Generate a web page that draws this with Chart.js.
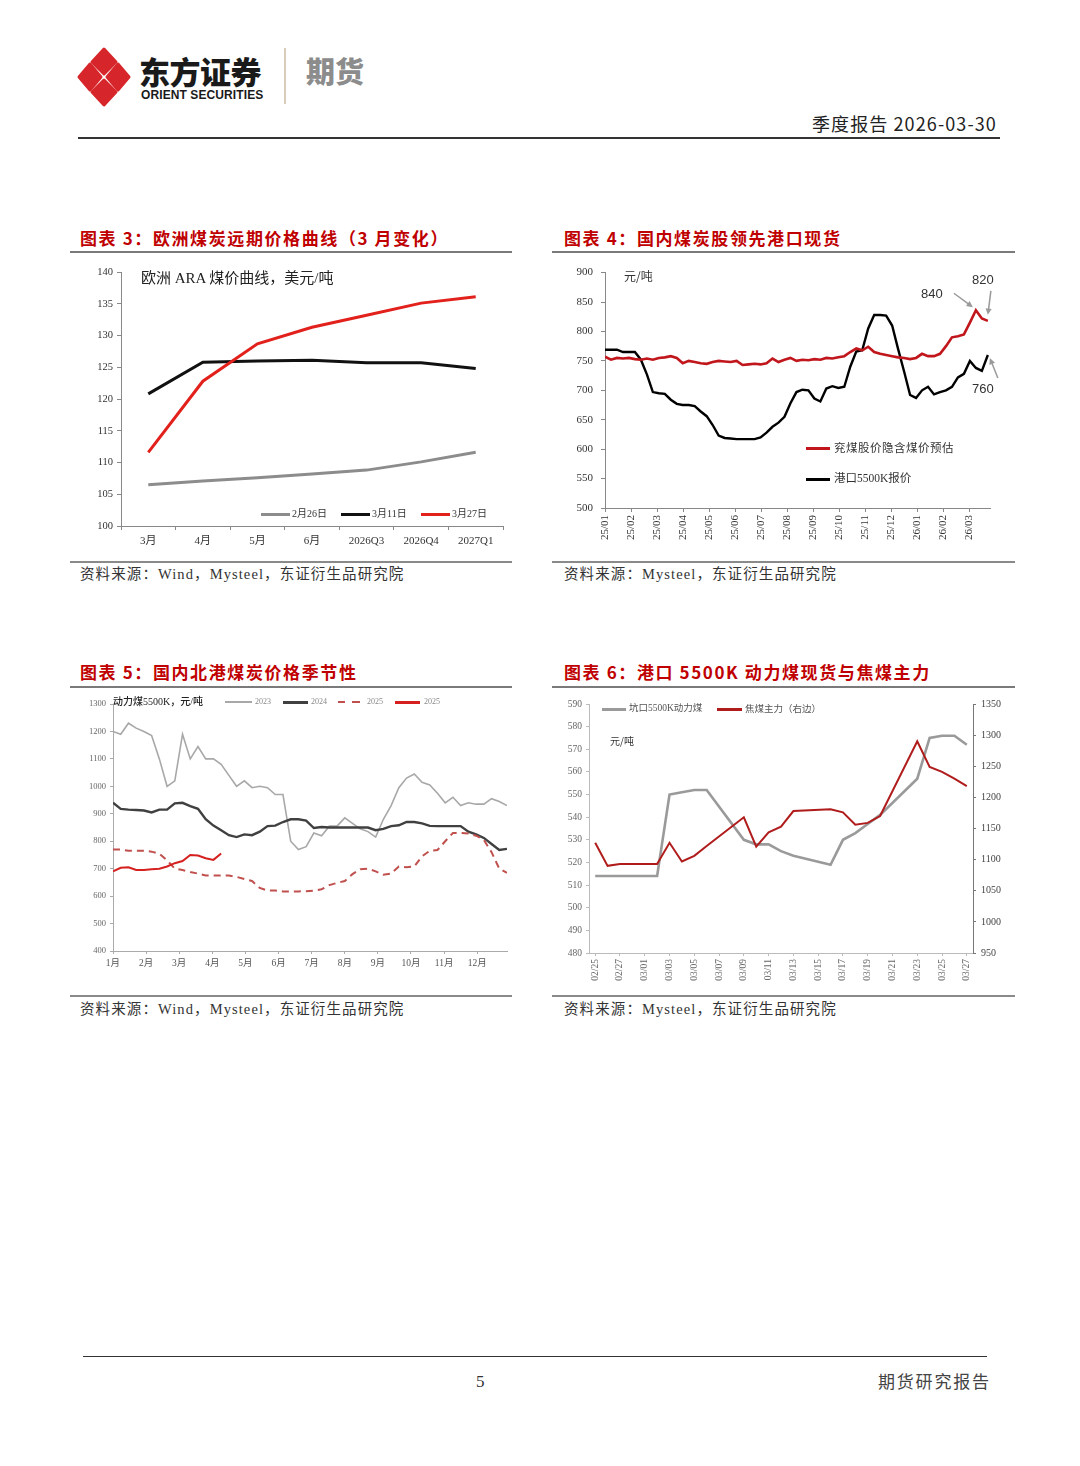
<!DOCTYPE html>
<html><head><meta charset="utf-8">
<script src="https://cdn.jsdelivr.net/npm/chart.js@4.4.1/dist/chart.umd.min.js"></script>
<style>
body{margin:0;background:#fff;}
#page{position:relative;width:1080px;height:1466px;overflow:hidden;font-family:"Noto Sans CJK SC",sans-serif;background:#fff;}
.abs{position:absolute;white-space:nowrap;line-height:1;}
.title{font-size:17px;font-weight:700;color:#c00000;letter-spacing:1.6px;}
.src{font-family:"Liberation Serif","Noto Sans CJK SC",serif;font-size:14.5px;color:#333;letter-spacing:1.1px;}
.ln{position:absolute;}
.serif{font-family:"Liberation Serif","Noto Sans CJK SC",serif;}
canvas{position:absolute;}
</style></head><body><div id="page">

<!-- header -->
<svg class="ln" style="left:76px;top:46px" width="56" height="62" viewBox="0 0 56 62">
  <g fill="#d7262b" stroke="#d7262b" stroke-width="3" stroke-linejoin="round">
    <polygon points="28,3 40,16 28,28 16,16"/>
    <polygon points="14,18 25,31 14,44 3,31"/>
    <polygon points="42,18 53,31 42,44 31,31"/>
    <polygon points="28,34 40,46 28,59 16,46"/>
  </g>
</svg>
<div class="abs" style="left:139px;top:55px;font-size:31px;font-weight:900;color:#1a1a1a;letter-spacing:-0.5px">东方证券</div>
<div class="abs" style="left:141px;top:89px;font-size:12px;font-weight:700;color:#1a1a1a;font-family:'Liberation Sans',Arial,sans-serif;letter-spacing:0.1px">ORIENT SECURITIES</div>
<div class="ln" style="left:284px;top:48px;width:2px;height:56px;background:#d8cdb8"></div>
<div class="abs" style="left:306px;top:56px;font-size:29px;font-weight:900;color:#8c8c8c">期货</div>
<div class="abs" style="left:812px;top:114px;font-size:18px;color:#222;letter-spacing:1.1px">季度报告 2026-03-30</div>
<div class="ln" style="left:78px;top:137px;width:922px;height:2px;background:#333"></div>

<!-- titles -->
<div class="abs title" style="left:80px;top:229px">图表 3：欧洲煤炭远期价格曲线（3 月变化）</div>
<div class="abs title" style="left:564px;top:229px">图表 4：国内煤炭股领先港口现货</div>
<div class="abs title" style="left:80px;top:663px">图表 5：国内北港煤炭价格季节性</div>
<div class="abs title" style="left:564px;top:663px">图表 6：港口 5500K 动力煤现货与焦煤主力</div>
<div class="ln" style="left:70px;top:251px;width:442px;height:2px;background:#7a7a7a"></div>
<div class="ln" style="left:552px;top:251px;width:463px;height:2px;background:#7a7a7a"></div>
<div class="ln" style="left:70px;top:686px;width:442px;height:2px;background:#7a7a7a"></div>
<div class="ln" style="left:552px;top:686px;width:463px;height:2px;background:#7a7a7a"></div>

<!-- sources -->
<div class="ln" style="left:70px;top:561px;width:442px;height:2px;background:#8a8a8a"></div>
<div class="ln" style="left:552px;top:561px;width:463px;height:2px;background:#8a8a8a"></div>
<div class="ln" style="left:70px;top:995px;width:442px;height:2px;background:#8a8a8a"></div>
<div class="ln" style="left:552px;top:995px;width:463px;height:2px;background:#8a8a8a"></div>
<div class="abs src" style="left:80px;top:567px">资料来源：Wind，Mysteel，东证衍生品研究院</div>
<div class="abs src" style="left:564px;top:567px">资料来源：Mysteel，东证衍生品研究院</div>
<div class="abs src" style="left:80px;top:1002px">资料来源：Wind，Mysteel，东证衍生品研究院</div>
<div class="abs src" style="left:564px;top:1002px">资料来源：Mysteel，东证衍生品研究院</div>

<!-- footer -->
<div class="ln" style="left:83px;top:1356px;width:904px;height:1px;background:#333"></div>
<div class="abs serif" style="left:476px;top:1373px;font-size:17px;color:#333">5</div>
<div class="abs" style="left:878px;top:1372px;font-size:17px;color:#444;letter-spacing:1.8px">期货研究报告</div>

<!-- chart canvases -->
<canvas id="c3" width="442" height="300" style="left:70px;top:258px"></canvas>
<canvas id="c4" width="463" height="300" style="left:552px;top:258px"></canvas>
<canvas id="c5" width="442" height="298" style="left:70px;top:692px"></canvas>
<canvas id="c6" width="463" height="298" style="left:552px;top:692px"></canvas>

<!-- chart 3 overlays -->
<div class="abs" style="left:141px;top:271px;font-size:15px;color:#222;font-family:'Liberation Serif','Noto Sans CJK SC',serif">欧洲 ARA 煤价曲线，美元/吨</div>
<div class="ln" style="left:261px;top:513px;width:29px;height:3px;background:#8c8c8c"></div>
<div class="abs serif" style="left:292px;top:509px;font-size:10px;color:#333">2月26日</div>
<div class="ln" style="left:341px;top:513px;width:29px;height:3px;background:#111"></div>
<div class="abs serif" style="left:372px;top:509px;font-size:10px;color:#333">3月11日</div>
<div class="ln" style="left:421px;top:513px;width:29px;height:3px;background:#e2211c"></div>
<div class="abs serif" style="left:452px;top:509px;font-size:10px;color:#333">3月27日</div>

<!-- chart 4 overlays -->
<div class="abs" style="left:624px;top:270px;font-size:12px;color:#333">元/吨</div>
<div class="ln" style="left:806px;top:447px;width:24px;height:3px;background:#c0161c"></div>
<div class="abs" style="left:834px;top:442px;font-size:11.5px;color:#333;letter-spacing:0.5px">兖煤股价隐含煤价预估</div>
<div class="ln" style="left:806px;top:478px;width:24px;height:3px;background:#000"></div>
<div class="abs" style="left:834px;top:473px;font-size:11.5px;color:#333;font-family:'Liberation Serif','Noto Sans CJK SC',serif">港口5500K报价</div>
<div class="abs" style="left:921px;top:287px;font-size:13px;color:#333;font-family:'Liberation Sans',sans-serif">840</div>
<div class="abs" style="left:972px;top:273px;font-size:13px;color:#333;font-family:'Liberation Sans',sans-serif">820</div>
<div class="abs" style="left:972px;top:382px;font-size:13px;color:#333;font-family:'Liberation Sans',sans-serif">760</div>

<!-- chart 5 overlays -->
<div class="abs" style="left:113px;top:697px;font-size:10px;color:#222;font-weight:500;font-family:'Liberation Serif','Noto Sans CJK SC',serif">动力煤5500K，元/吨</div>
<div class="ln" style="left:225px;top:701px;width:27px;height:2px;background:#a8a8a8"></div>
<div class="abs serif" style="left:255px;top:698px;font-size:8px;color:#888">2023</div>
<div class="ln" style="left:283px;top:701px;width:25px;height:3px;background:#404040"></div>
<div class="abs serif" style="left:311px;top:698px;font-size:8px;color:#888">2024</div>
<div class="ln" style="left:338px;top:701px;width:7px;height:2px;background:#c0504d"></div>
<div class="ln" style="left:352px;top:701px;width:8px;height:2px;background:#c0504d"></div>
<div class="abs serif" style="left:367px;top:698px;font-size:8px;color:#888">2025</div>
<div class="ln" style="left:395px;top:701px;width:25px;height:3px;background:#d62020"></div>
<div class="abs serif" style="left:424px;top:698px;font-size:8px;color:#888">2025</div>

<!-- chart 6 overlays -->
<div class="ln" style="left:602px;top:708px;width:24px;height:3px;background:#9a9a9a"></div>
<div class="abs" style="left:629px;top:704px;font-size:9.5px;color:#555;font-family:'Liberation Serif','Noto Sans CJK SC',serif">坑口5500K动力煤</div>
<div class="ln" style="left:717px;top:708px;width:25px;height:3px;background:#b01c1c"></div>
<div class="abs" style="left:745px;top:704px;font-size:9.5px;color:#555">焦煤主力（右边）</div>
<div class="abs" style="left:610px;top:736px;font-size:10px;color:#333">元/吨</div>

</div>
<script>
// ---------- Chart 3 data ----------
const c3Categories = ['3月','4月','5月','6月','2026Q3','2026Q4','2027Q1'];
const c3Feb26 = [106.5,107.1,107.6,108.2,108.8,110.1,111.6];
const c3Mar11 = [120.8,125.8,126.0,126.1,125.7,125.7,124.8];
const c3Mar27 = [111.6,122.8,128.7,131.3,133.2,135.1,136.1];

// ---------- Chart 4 data (weekly from 2025-01-03) ----------
const c4MonthLabels = ['25/01','25/02','25/03','25/04','25/05','25/06','25/07','25/08','25/09','25/10','25/11','25/12','26/01','26/02','26/03'];
const c4Implied = [757,752,755,754,755,753,752,754,752,755,
                   756,758,755,746,750,748,746,745,748,750,
                   749,748,750,743,744,745,744,746,754,748,
                   752,755,750,752,751,753,752,755,754,756,
                   758,765,771,768,774,765,762,760,758,756,
                   755,753,755,762,758,758,762,775,790,792,
                   795,815,836,822,818];
const c4Port = [769,769,769,765,765,765,752,727,697,695,
                694,684,677,675,675,673,664,656,641,623,
                619,618,617,617,617,617,620,628,638,645,
                655,678,697,701,700,686,681,703,707,704,
                706,740,766,768,805,828,828,827,810,770,
                732,692,687,700,706,693,697,700,706,722,
                728,750,738,733,760];

// ---------- Chart 5 data (weekly, seasonal) ----------
const c5MonthLabels = ['1月','2月','3月','4月','5月','6月','7月','8月','9月','10月','11月','12月'];
const c5Y2023 = [1200,1190,1230,1212,1200,1185,1100,1000,1020,1190,
                 1100,1145,1100,1100,1080,1040,1000,1020,995,1000,
                 995,970,970,800,770,780,830,820,855,855,
                 885,865,845,835,815,880,930,995,1030,1045,
                 1015,1005,975,940,960,930,940,935,935,955,
                 945,930];
const c5Y2024 = [940,918,915,914,912,905,915,915,938,940,
                 928,918,880,857,840,822,815,825,822,835,
                 855,857,870,880,880,875,848,852,850,850,
                 850,850,850,850,840,845,855,858,870,870,
                 865,856,855,855,855,855,835,825,812,790,
                 768,772];
const c5Y2025 = [770,770,765,765,765,762,755,730,700,695,
                 688,682,675,675,675,675,670,662,655,630,
                 620,620,617,617,617,618,620,625,640,648,
                 655,680,698,700,690,678,682,708,705,708,
                 745,765,768,800,830,830,828,820,805,760,
                 700,685];
const c5Y2026 = [690,703,705,695,695,698,700,708,720,728,750,748,738,732,755];

// ---------- Chart 6 data (daily 02/25 - 03/27) ----------
const c6Dates = ['02/25','02/26','02/27','02/28','03/01','03/02','03/03','03/04','03/05','03/06',
                 '03/07','03/08','03/09','03/10','03/11','03/12','03/13','03/14','03/15','03/16',
                 '03/17','03/18','03/19','03/20','03/21','03/22','03/23','03/24','03/25','03/26','03/27'];
const c6Coal = [514,514,514,null,null,514,550,551,552,552,
                null,null,530,528,528,525,523,null,null,519,
                530,533,537,541,null,null,557,575,576,576,572];
const c6Coking = [1127,1090,1093,null,null,1093,1127,1097,1106,1122,
                  null,null,1168,1121,1144,1153,1178,null,null,1181,
                  1176,1156,1159,1170,null,null,1290,1249,1241,1230,1218];

// ---------- common ----------
Chart.defaults.font.family = '"Liberation Serif","Noto Sans CJK SC",serif';
Chart.defaults.color = '#333';
const fitW = w => (s => { s.width = w; });
const fitH = h => (s => { s.height = h; });
const plain = v => String(v);
const base = {responsive:false, animation:false, devicePixelRatio:1,
  plugins:{legend:{display:false}, tooltip:{enabled:false}},
  elements:{point:{radius:0}, line:{tension:0}}};
function opts(o){ return Object.assign({}, base, o); }

// ---------- Chart 3 ----------
new Chart(document.getElementById('c3'), {
  type:'line',
  data:{labels:c3Categories, datasets:[
    {data:c3Mar27, borderColor:'#e2211c', borderWidth:3},
    {data:c3Mar11, borderColor:'#111', borderWidth:3},
    {data:c3Feb26, borderColor:'#8c8c8c', borderWidth:3}
  ]},
  options:opts({
    layout:{padding:{top:14,right:9,left:0,bottom:0}},
    scales:{
      x:{type:'category', offset:true, afterFit:fitH(32),
         grid:{offset:true, drawOnChartArea:false, tickLength:4, color:'#888'},
         border:{color:'#888'},
         ticks:{font:{size:11}, padding:5, color:'#333', maxRotation:0}},
      y:{min:100, max:140, afterFit:fitW(51),
         grid:{drawOnChartArea:false, tickLength:4, color:'#888'},
         border:{color:'#888'},
         ticks:{stepSize:5, font:{size:10.5}, padding:4, color:'#333', callback:plain}}
    }
  })
});

// ---------- Chart 4 ----------
const WEEK_M = 7/30.44;
const c4PeakIdx = c4Implied.indexOf(Math.max(...c4Implied));
function drawArrow(ctx, x1, y1, x2, y2){
  const a = Math.atan2(y2-y1, x2-x1), L = 7;
  ctx.save();
  ctx.strokeStyle = '#9a9a9a'; ctx.fillStyle = '#9a9a9a'; ctx.lineWidth = 1.5;
  ctx.beginPath(); ctx.moveTo(x1,y1); ctx.lineTo(x2 - Math.cos(a)*L*0.8, y2 - Math.sin(a)*L*0.8); ctx.stroke();
  ctx.beginPath(); ctx.moveTo(x2,y2);
  ctx.lineTo(x2 - L*Math.cos(a-0.45), y2 - L*Math.sin(a-0.45));
  ctx.lineTo(x2 - L*Math.cos(a+0.45), y2 - L*Math.sin(a+0.45));
  ctx.closePath(); ctx.fill();
  ctx.restore();
}
const arrowPlugin = {id:'arrows', afterDatasetsDraw(chart){
  const red = chart.getDatasetMeta(0).data, blk = chart.getDatasetMeta(1).data;
  const pk = red[c4PeakIdx], lr = red[red.length-1], lb = blk[blk.length-1];
  const ctx = chart.ctx;
  drawArrow(ctx, pk.x-22, pk.y-17, pk.x-3, pk.y-3);
  drawArrow(ctx, lr.x+3, lr.y-30, lr.x, lr.y-6);
  drawArrow(ctx, lb.x+10, lb.y+23, lb.x+2, lb.y+3);
}};
new Chart(document.getElementById('c4'), {
  type:'line',
  data:{datasets:[
    {data:c4Implied.map((v,i)=>({x:i*WEEK_M, y:v})), borderColor:'#c0161c', borderWidth:2.6},
    {data:c4Port.map((v,i)=>({x:i*WEEK_M, y:v})), borderColor:'#000', borderWidth:2.4}
  ]},
  options:opts({
    layout:{padding:{top:14,right:25,left:0,bottom:0}},
    scales:{
      x:{type:'linear', min:0, max:14.8, afterFit:fitH(50),
         grid:{drawOnChartArea:false, tickLength:4, color:'#888'},
         border:{color:'#888'},
         ticks:{stepSize:1, includeBounds:false, autoSkip:false, minRotation:90, maxRotation:90,
                font:{size:11}, padding:3, color:'#333',
                callback:v => c4MonthLabels[Math.round(v)] ?? ''}},
      y:{min:500, max:900, afterFit:fitW(53),
         grid:{drawOnChartArea:false, tickLength:4, color:'#888'},
         border:{color:'#888'},
         ticks:{stepSize:50, font:{size:11}, padding:8, color:'#333', callback:plain}}
    }
  }),
  plugins:[arrowPlugin]
});

// ---------- Chart 5 ----------
const C5_WEEK = 7/30;
const toPts = arr => arr.map((v,i)=>({x:1+i*C5_WEEK, y:v}));
new Chart(document.getElementById('c5'), {
  type:'line',
  data:{datasets:[
    {data:toPts(c5Y2026), borderColor:'#d62020', borderWidth:2},
    {data:toPts(c5Y2025), borderColor:'#c0504d', borderWidth:2, borderDash:[7,5]},
    {data:toPts(c5Y2024), borderColor:'#404040', borderWidth:2.4},
    {data:toPts(c5Y2023), borderColor:'#a8a8a8', borderWidth:1.6}
  ]},
  options:opts({
    layout:{padding:{top:12,right:5,left:0,bottom:0}},
    scales:{
      x:{type:'linear', min:1, max:12.9, afterFit:fitH(39),
         grid:{drawOnChartArea:false, tickLength:3, color:'#aaa'},
         border:{color:'#aaa'},
         ticks:{stepSize:1, includeBounds:false, autoSkip:false, maxRotation:0,
                font:{size:9.5}, padding:4, color:'#555',
                callback:v => c5MonthLabels[Math.round(v)-1] ?? ''}},
      y:{min:400, max:1300, afterFit:fitW(43),
         grid:{drawOnChartArea:false, tickLength:3, color:'#aaa'},
         border:{color:'#aaa'},
         ticks:{stepSize:100, font:{size:8.5}, padding:4, color:'#666', callback:plain}}
    }
  })
});

// ---------- Chart 6 ----------
new Chart(document.getElementById('c6'), {
  type:'line',
  data:{labels:c6Dates, datasets:[
    {data:c6Coking, yAxisID:'y1', borderColor:'#b01c1c', borderWidth:2, spanGaps:true},
    {data:c6Coal, yAxisID:'y', borderColor:'#9a9a9a', borderWidth:2.6, spanGaps:true}
  ]},
  options:opts({
    layout:{padding:{top:12,right:0,left:0,bottom:0}},
    scales:{
      x:{type:'category', offset:true, afterFit:fitH(37),
         grid:{drawOnChartArea:false, tickLength:3, color:'#bbb'},
         border:{color:'#bbb'},
         ticks:{autoSkip:false, minRotation:90, maxRotation:90, font:{size:9.5}, padding:3, color:'#666',
                callback:function(v,i){ return i%2===0 ? this.getLabelForValue(v) : null; }}},
      y:{position:'left', min:480, max:590, afterFit:fitW(37),
         grid:{drawOnChartArea:false, tickLength:3, color:'#bbb'},
         border:{color:'#bbb'},
         ticks:{stepSize:10, font:{size:9.5}, padding:4, color:'#666', callback:plain}},
      y1:{position:'right', min:950, max:1350, afterFit:fitW(42),
         grid:{drawOnChartArea:false, tickLength:3, color:'#777'},
         border:{color:'#777'},
         ticks:{stepSize:50, font:{size:10}, padding:5, color:'#444', callback:plain}}
    }
  })
});
</script>
</body></html>
